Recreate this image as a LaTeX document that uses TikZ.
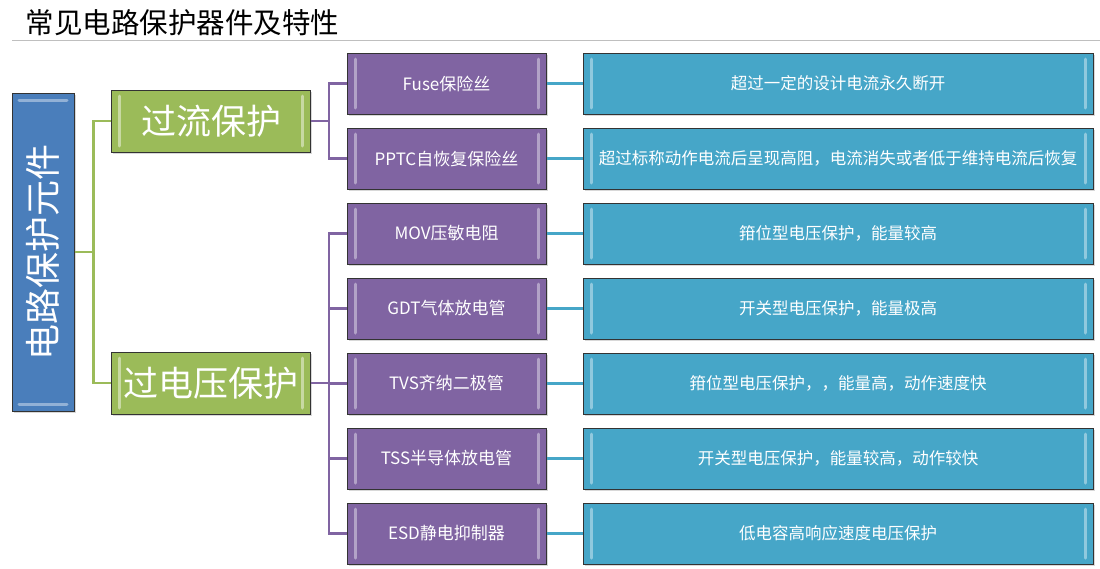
\documentclass[tikz,border=0pt]{standalone}
\usepackage{fontspec}
\usepackage{graphicx}
\newfontfamily\cjk{Noto Sans CJK SC}
\usetikzlibrary{positioning,shadows}
\definecolor{rootblue}{RGB}{74,126,187}
\definecolor{groupgreen}{RGB}{155,187,89}
\definecolor{itempurple}{RGB}{128,100,162}
\definecolor{noteaqua}{RGB}{70,166,200}
\tikzset{
    every node/.style={font=\cjk},
    box/.style={draw=black!80,line width=1pt,text=white,align=center,
        drop shadow={shadow xshift=1.5pt,shadow yshift=-1.5pt,opacity=.3}},
    vbevel/.style={path picture={
        \draw[line width=3pt,line cap=round,#1]
            ([xshift=8pt,yshift=-6pt]path picture bounding box.north west) --
            ([xshift=8pt,yshift=6pt]path picture bounding box.south west)
            ([xshift=-8pt,yshift=-6pt]path picture bounding box.north east) --
            ([xshift=-8pt,yshift=6pt]path picture bounding box.south east);}},
    hbevel/.style={path picture={
        \draw[line width=3pt,line cap=round,#1]
            ([xshift=7pt,yshift=-7pt]path picture bounding box.north west) --
            ([xshift=-7pt,yshift=-7pt]path picture bounding box.north east)
            ([xshift=7pt,yshift=7pt]path picture bounding box.south west) --
            ([xshift=-7pt,yshift=7pt]path picture bounding box.south east);}},
    root node/.style={box,fill=rootblue,minimum width=62pt,minimum height=318pt,
        hbevel={white,opacity=.4},font=\cjk\fontsize{36}{40}\selectfont},
    group node/.style={box,fill=groupgreen,minimum width=199pt,minimum height=62pt,
        vbevel={white,opacity=.45},font=\cjk\fontsize{35}{40}\selectfont},
    item node/.style={box,fill=itempurple,minimum width=199pt,minimum height=61pt,
        vbevel={white,opacity=.4},font=\cjk\fontsize{17}{20}\selectfont},
    note node/.style={box,fill=noteaqua,minimum width=510pt,minimum height=61pt,
        vbevel={white,opacity=.4},font=\cjk\fontsize{16.5}{20}\selectfont},
    green line/.style={groupgreen,line width=2.5pt},
    purple line/.style={itempurple,line width=2.5pt},
    aqua line/.style={noteaqua,line width=3pt}
}
\begin{document}
\begin{tikzpicture}[x=1pt,y=1pt,node distance=13pt]
    \useasboundingbox[fill=white] (0,0) rectangle (1100,-568);

    % title
    \node[anchor=west,font=\cjk\fontsize{28.5}{32}\selectfont] (title) at (22,-23) {常见电路保护器件及特性};
    \draw[black!25,line width=1pt] (12,-40) -- (1100,-40);

    \node[root node] (root) at (43,-252) {\rotatebox{90}{电路保护元件}};
    \node[group node] (ocp) at (211,-121) {过流保护};
    \node[group node] (ovp) at (211,-383) {过电压保护};

    \node[item node] (fuse) at (446.5,-83.5) {Fuse保险丝};
    \node[item node] (pptc) [below =of fuse] {PPTC自恢复保险丝};
    \node[item node] (mov) [below =of pptc] {MOV压敏电阻};
    \node[item node] (gdt) [below =of mov] {GDT气体放电管};
    \node[item node] (tvs) [below =of gdt] {TVS齐纳二极管};
    \node[item node] (tss) [below =of tvs] {TSS半导体放电管};
    \node[item node] (esd) [below =of tss] {ESD静电抑制器};

    \node[note node] (fusenote) [right =36pt of fuse] {超过一定的设计电流永久断开};
    \node[note node] (pptcnote) [right =36pt of pptc] {超过标称动作电流后呈现高阻，电流消失或者低于维持电流后恢复};
    \node[note node] (movnote) [right =36pt of mov] {箝位型电压保护，能量较高};
    \node[note node] (gdtnote) [right =36pt of gdt] {开关型电压保护，能量极高};
    \node[note node] (tvsnote) [right =36pt of tvs] {箝位型电压保护，，能量高，动作速度快};
    \node[note node] (tssnote) [right =36pt of tss] {开关型电压保护，能量较高，动作较快};
    \node[note node] (esdnote) [right =36pt of esd] {低电容高响应速度电压保护};

    % connectors
    \draw[green line] (root.east) -- ++(19,0) |- (ocp.west);
    \draw[green line] (root.east) -- ++(19,0) |- (ovp.west);
    \draw[purple line] (ocp.east) -- ++(18,0) |- (fuse.west);
    \draw[purple line] (ocp.east) -- ++(18,0) |- (pptc.west);
    \draw[purple line] (ovp.east) -- ++(18,0) |- (mov.west);
    \draw[purple line] (ovp.east) -- ++(18,0) |- (gdt.west);
    \draw[purple line] (ovp.east) -- ++(18,0) |- (tvs.west);
    \draw[purple line] (ovp.east) -- ++(18,0) |- (tss.west);
    \draw[purple line] (ovp.east) -- ++(18,0) |- (esd.west);
    \draw[aqua line] (fuse.east) -- (fusenote.west);
    \draw[aqua line] (pptc.east) -- (pptcnote.west);
    \draw[aqua line] (mov.east) -- (movnote.west);
    \draw[aqua line] (gdt.east) -- (gdtnote.west);
    \draw[aqua line] (tvs.east) -- (tvsnote.west);
    \draw[aqua line] (tss.east) -- (tssnote.west);
    \draw[aqua line] (esd.east) -- (esdnote.west);
\end{tikzpicture}
\end{document}
